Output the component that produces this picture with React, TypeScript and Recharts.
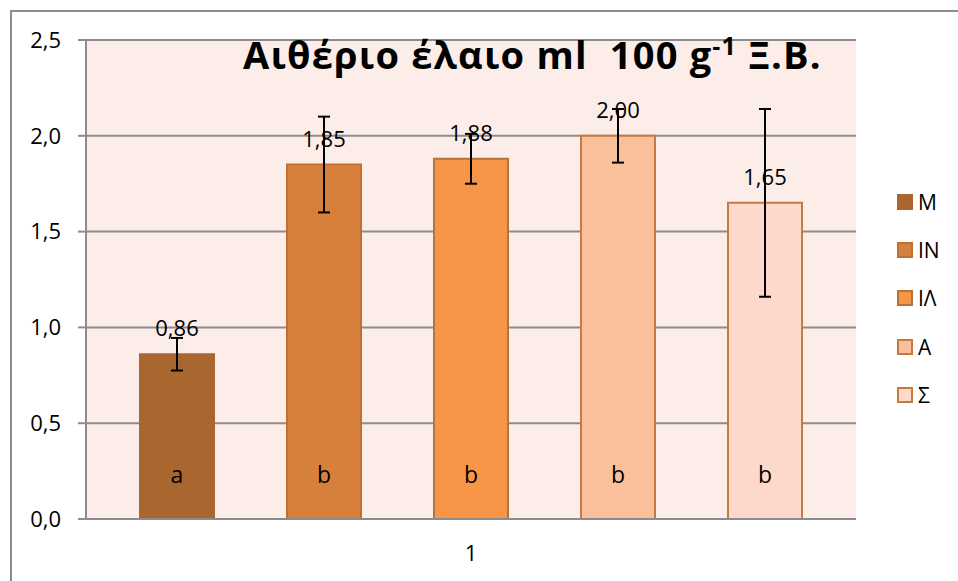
import { Bar, BarChart, CartesianGrid, ErrorBar, LabelList, XAxis, YAxis } from "recharts";

const categories = ["1"];
const seriesNames = ["Μ", "ΙΝ", "ΙΛ", "Α", "Σ"];
const values = [0.86, 1.85, 1.88, 2.0, 1.65];
const errors = [0.085, 0.25, 0.13, 0.14, 0.49];
const letters = ["a", "b", "b", "b", "b"];
const yTicks = [0, 0.5, 1.0, 1.5, 2.0, 2.5];

const fills = ["#A9662E", "#D6803B", "#F79646", "#FABF9B", "#FCD9CA"];
const strokes = ["#A9662E", "#C0702F", "#B8733A", "#C77A3F", "#C77A3F"];

const data = categories.map((name) => {
  const row: Record<string, string | number> = { name };
  seriesNames.forEach((_, i) => {
    row[`s${i}`] = values[i];
    row[`s${i}err`] = errors[i];
    row[`s${i}let`] = letters[i];
  });
  return row;
});

const font = "'Open Sans', 'DejaVu Sans', sans-serif";
const gray = "#8c8c8c";
const comma = (v: number, d: number) => v.toFixed(d).replace(".", ",");

function LegendBox() {
  return (
    <div style={{ position: "absolute", left: 897, top: 178, fontFamily: font, fontSize: 21, color: "#000" }}>
      {seriesNames.map((n, i) => (
        <div key={n} style={{ display: "flex", alignItems: "center", height: 48.2 }}>
          <span
            style={{
              width: 12,
              height: 12,
              background: fills[i],
              border: `2px solid ${strokes[i]}`,
              marginRight: 5,
            }}
          />
          {n}
        </div>
      ))}
    </div>
  );
}

export default function App() {
  return (
    <div style={{ position: "absolute", left: 0, top: 0, width: 958, height: 581, background: "#fff", fontFamily: font, overflow: "hidden" }}>
      <div
        style={{
          position: "absolute",
          left: 10,
          top: 10,
          width: 960,
          height: 600,
          borderTop: `2px solid ${gray}`,
          borderLeft: `2px solid ${gray}`,
        }}
      />
      <BarChart
        width={958}
        height={581}
        data={data}
        margin={{ top: 40, right: 102, bottom: 22, left: 10 }}
        barCategoryGap={54}
        barGap={73}
        style={{ position: "absolute", left: 0, top: 0 }}
      >
        <CartesianGrid vertical={false} stroke={gray} strokeWidth={2} fill="#FCEDE8" />
        <XAxis
          dataKey="name"
          height={40}
          tickLine={false}
          axisLine={{ stroke: gray, strokeWidth: 2 }}
          tick={{ fontSize: 22, fill: "#000", fontFamily: font }}
          tickMargin={20}
        />
        <YAxis
          width={76}
          domain={[0, 2.5]}
          ticks={yTicks}
          tickFormatter={(v: number) => comma(v, 1)}
          tickSize={8}
          tickMargin={17}
          tickLine={{ stroke: gray, strokeWidth: 2 }}
          axisLine={{ stroke: gray, strokeWidth: 2 }}
          tick={{ fontSize: 22, fill: "#000", fontFamily: font }}
        />
        {seriesNames.map((n, i) => (
          <Bar
            key={n}
            dataKey={`s${i}`}
            name={n}
            fill={fills[i]}
            stroke={strokes[i]}
            strokeWidth={2}
            isAnimationActive={false}
          >
            <ErrorBar dataKey={`s${i}err`} width={6} stroke="#000" strokeWidth={2} direction="y" />
            <LabelList
              dataKey={`s${i}`}
              position="top"
              offset={18}
              formatter={(v: number) => comma(v, 2)}
              style={{ fontSize: 22, fill: "#000", fontFamily: font }}
            />
            <LabelList
              dataKey={`s${i}let`}
              content={(p: any) => (
                <text
                  x={p.x + p.width / 2}
                  y={p.y + p.height - 36}
                  textAnchor="middle"
                  fontSize={23}
                  fontFamily={font}
                  fill="#000"
                >
                  {p.value}
                </text>
              )}
            />
          </Bar>
        ))}
      </BarChart>
      <LegendBox />
      <div
        style={{
          position: "absolute",
          left: 243,
          top: 20,
          fontSize: 38,
          fontWeight: 700,
          fontFamily: font,
          color: "#000",
          whiteSpace: "pre",
          lineHeight: "50px",
          letterSpacing: 1.2,
        }}
      >
        Αιθέριο έλαιο ml  100 g<sup style={{ fontSize: 25 }}>-1</sup> Ξ.Β.
      </div>
    </div>
  );
}
